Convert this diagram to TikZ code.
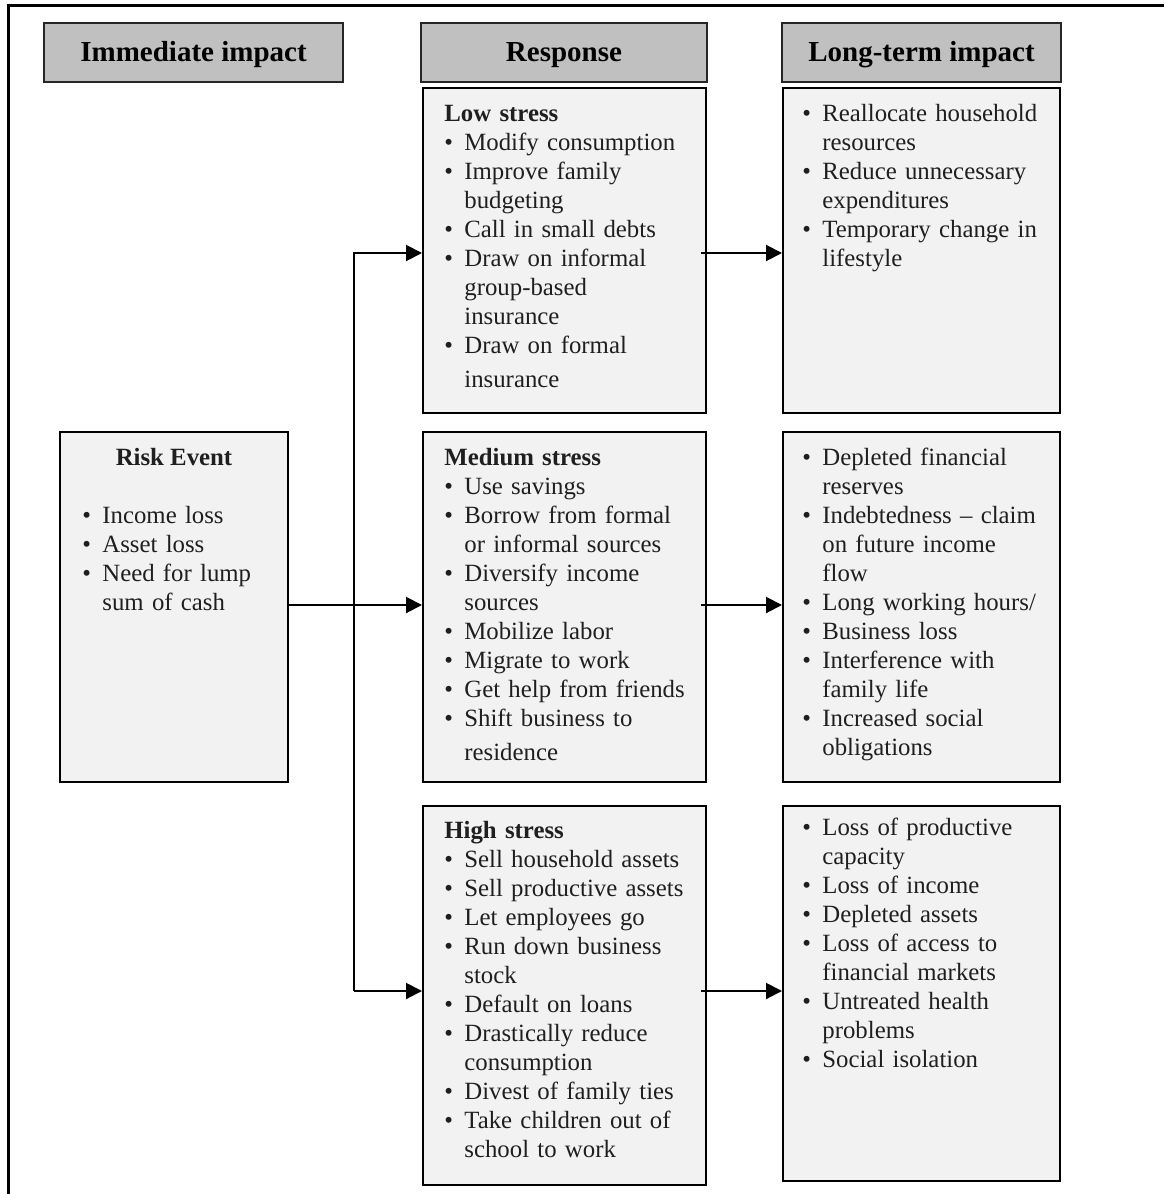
\documentclass[tikz,border=0pt]{standalone}
\usepackage{fontspec}
\setmainfont{Liberation Serif}
\usetikzlibrary{arrows.meta,positioning}

\definecolor{headgray}{HTML}{C0C0C0}
\definecolor{boxgray}{HTML}{F2F2F2}

\makeatletter
\let\nl\@normalcr
\makeatother
\newlength{\bulw}
\setlength{\bulw}{10pt}
\newcommand{\fitem}[1]{\hangindent=\bulw\hangafter=1\makebox[\bulw][l]{\textbullet}#1\par}
\newcommand{\bitem}[1]{\par\fitem{#1}}

\begin{document}
\begin{tikzpicture}[
  x=0.5pt, y=-0.5pt,
  header/.style={rectangle, draw=black!85, line width=1.3pt, fill=headgray, inner sep=0pt, minimum height=29.5pt, text height=12pt, text depth=3pt, font=\fontsize{14.5}{17}\selectfont\bfseries},
  panel/.style={rectangle, draw, line width=1pt, fill=boxgray, inner sep=0pt},
  list/.style={anchor=base west, inner sep=0pt, text width=125pt, align=left, text=black!88, font=\fontsize{12.4}{14.5}\selectfont},
  wire/.style={-{Triangle[length=8pt,width=8pt]}, line width=1pt},
  frame/.style={line width=1.5pt}
]
\useasboundingbox (0,0) rectangle (1164,1194);

% outer frame (right and bottom edges fall outside the page)
\draw[frame] (8,1200) -- (8,5) -- (1164,5);

% column headers
\node[header, minimum width=149.5pt] (headimm) at (193.5,52.5) {Immediate impact};
\node[header, minimum width=143pt] (headresp) at (564,52.5) {Response};
\node[header, minimum width=139.5pt] (headlong) at (921.5,52.5) {Long-term impact};

% risk event
\node[panel, minimum width=114pt, minimum height=175pt] (risk) at (174,607) {};

% responses
\node[panel, minimum width=141.5pt, minimum height=162.5pt] (low) at (564.5,250.5) {};
\node[panel, minimum width=141.5pt, minimum height=175pt] (med) at (564.5,607) {};
\node[panel, minimum width=141.5pt, minimum height=189.5pt] (high) at (564.5,995.5) {};

% long-term impacts
\node[panel, minimum width=138.5pt, minimum height=162.5pt] (ltlow) at (921.5,250.5) {};
\node[panel, minimum width=138.5pt, minimum height=175pt] (ltmed) at (921.5,607) {};
\node[panel, minimum width=138.5pt, minimum height=187.5pt] (lthigh) at (921.5,993.5) {};

% box texts
\node[list, anchor=base, text width=, align=center, font=\fontsize{12.4}{14.5}\selectfont\bfseries] (risktitle) at ([shift={(0,34)}]risk.north) {Risk Event};
\node[list, text width=95pt] (risklist) at ([shift={(23,92)}]risk.north west) {%
  \fitem{Income loss}
  \bitem{Asset loss}
  \bitem{Need for lump\nl sum of cash}};

\node[list] (lowlist) at ([shift={(22,34)}]low.north west) {%
  \textbf{Low stress}
  \bitem{Modify consumption}
  \bitem{Improve family\nl budgeting}
  \bitem{Call in small debts}
  \bitem{Draw on informal\nl group-based\nl insurance}
  \bitem{Draw on formal\nl[2.5pt]insurance}};

\node[list] (medlist) at ([shift={(22,34)}]med.north west) {%
  \textbf{Medium stress}
  \bitem{Use savings}
  \bitem{Borrow from formal\nl or informal sources}
  \bitem{Diversify income\nl sources}
  \bitem{Mobilize labor}
  \bitem{Migrate to work}
  \bitem{Get help from friends}
  \bitem{Shift business to\nl[2.5pt]residence}};

\node[list] (highlist) at ([shift={(22,33)}]high.north west) {%
  \textbf{High stress}
  \bitem{Sell household assets}
  \bitem{Sell productive assets}
  \bitem{Let employees go}
  \bitem{Run down business\nl stock}
  \bitem{Default on loans}
  \bitem{Drastically reduce\nl consumption}
  \bitem{Divest of family ties}
  \bitem{Take children out of\nl school to work}};

\node[list] (ltlowlist) at ([shift={(20,34)}]ltlow.north west) {%
  \fitem{Reallocate household\nl resources}
  \bitem{Reduce unnecessary\nl expenditures}
  \bitem{Temporary change in\nl lifestyle}};

\node[list] (ltmedlist) at ([shift={(20,34)}]ltmed.north west) {%
  \fitem{Depleted financial\nl reserves}
  \bitem{Indebtedness -- claim\nl on future income\nl flow}
  \bitem{Long working hours/}
  \bitem{Business loss}
  \bitem{Interference with\nl family life}
  \bitem{Increased social\nl obligations}};

\node[list] (lthighlist) at ([shift={(20,30)}]lthigh.north west) {%
  \fitem{Loss of productive\nl capacity}
  \bitem{Loss of income}
  \bitem{Depleted assets}
  \bitem{Loss of access to\nl financial markets}
  \bitem{Untreated health\nl problems}
  \bitem{Social isolation}};

% connectors
\coordinate (split) at (354,605);
\coordinate (jlow) at (354,253);
\coordinate (jhigh) at (354,991);
\draw[line width=1pt] (risk.east |- split) -- (split);
\draw[wire] (split) -- (med.west |- split);
\draw[wire] (jhigh) -- (jlow) -- (low.west |- jlow);
\draw[wire] (jhigh) -- (high.west |- jhigh);
\draw[wire] ([xshift=-3]low.east |- jlow) -- (ltlow.west |- jlow);
\draw[wire] ([xshift=-3]med.east |- split) -- (ltmed.west |- split);
\draw[wire] ([xshift=-3]high.east |- jhigh) -- (lthigh.west |- jhigh);

\end{tikzpicture}
\end{document}
